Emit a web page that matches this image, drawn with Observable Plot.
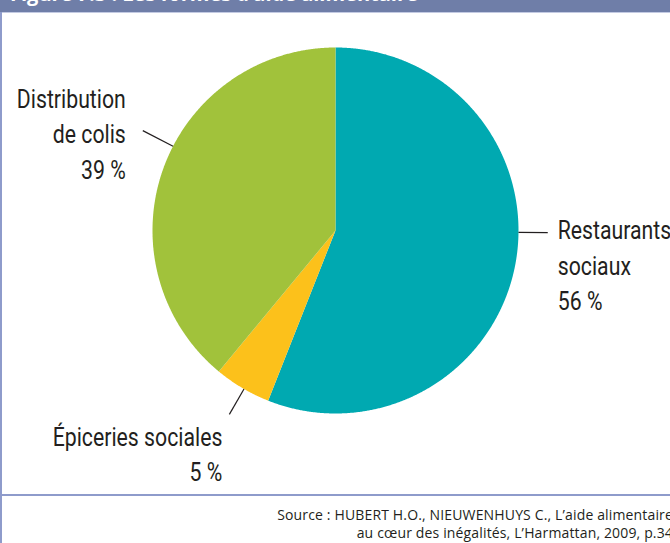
<!DOCTYPE html>
<html>
<head>
<meta charset="utf-8">
<script src="https://cdn.jsdelivr.net/npm/d3@7"></script>
<script src="https://cdn.jsdelivr.net/npm/@observablehq/plot@0.6"></script>
<style>
  html, body { margin: 0; padding: 0; background: #fff; }
  #page { position: relative; width: 670px; height: 543px; overflow: hidden; background: #fff; }
  #header { position: absolute; left: 0; top: 0; width: 670px; height: 12px; background: #6f7ea8; overflow: hidden; }
  #header span { position: absolute; left: 10px; top: -20.5px; color: #fff; font: bold 20px "Open Sans", sans-serif; white-space: nowrap; }
  #hline { position: absolute; left: 0; top: 12px; width: 670px; height: 1px; background: #c3cae2; }
  #lborder { position: absolute; left: 0; top: 12px; width: 2px; height: 531px; background: #8e9bcb; }
  #divider { position: absolute; left: 0; top: 494px; width: 670px; height: 2px; background: #8e9bcb; }
  #source { position: absolute; right: -3px; top: 506px; text-align: right; font: 14px "Open Sans", sans-serif; color: #231f20; line-height: 18px; white-space: nowrap; letter-spacing: 0.15px; }
  #chart { position: absolute; left: 0; top: 0; }
</style>
</head>
<body>
<div id="page">
  <div id="header"><span>Figure 7.3 : Les formes d’aide alimentaire</span></div>
  <div id="hline"></div>
  <div id="lborder"></div>
  <div id="chart"></div>
  <div id="divider"></div>
  <div id="source">Source : HUBERT H.O., NIEUWENHUYS C., L’aide alimentaire<br>au cœur des inégalités, L’Harmattan, 2009, p.34</div>
</div>
<script>
// ---- data ----
const categories = ["Restaurants sociaux", "Épiceries sociales", "Distribution de colis"];
const values = [56, 5, 39];
const colors = ["#00a9b1", "#fcc11b", "#a1c23b"];
const labelNames = [["Restaurants", "sociaux"], ["Épiceries sociales"], ["Distribution", "de colis"]];

// ---- layout (pixels) ----
const W = 670, H = 543;
const CX = 335, CY = 230, R = 183;
const leaderShift = [-10.2, -0.6, 7.6];   // degrees from slice middle
const leaderR = [[1.0, 1.16], [1.0, 1.16], [1.0, 1.186]];
const textOffset = [[10, -19], [-7, 6], [-17, -48]]; // px from leader end to top of text
const anchors = ["start", "end", "end"];
const fontSize = 26;
const fontWeight = 400;
const fontFamily = "Roboto, 'Noto Sans', sans-serif";
const targetWidth = 109; // width of "Distribution" in the reference, px

const pie = d3.pie().sort(null).value(d => d)(values);

// slice polygons in unit-radius coordinates (y up)
const polys = [];
pie.forEach((p, i) => {
  polys.push({cat: categories[i], x: 0, y: 0});
  const n = Math.max(4, Math.ceil((p.endAngle - p.startAngle) / 0.005));
  for (let k = 0; k <= n; k++) {
    const a = p.startAngle + (p.endAngle - p.startAngle) * k / n;
    polys.push({cat: categories[i], x: Math.sin(a), y: Math.cos(a)});
  }
  polys.push({cat: categories[i], x: 0, y: 0});
});

const leaders = pie.map((p, i) => {
  const a = (p.startAngle + p.endAngle) / 2 + leaderShift[i] * Math.PI / 180;
  const [r1, r2] = leaderR[i];
  return {
    cat: categories[i],
    x1: r1 * Math.sin(a), y1: r1 * Math.cos(a),
    x2: r2 * Math.sin(a), y2: r2 * Math.cos(a),
    i
  };
});

const labels = leaders.map(l => ({
  text: [...labelNames[l.i], `${values[l.i]} %`].join("\n"),
  x: l.x2 + textOffset[l.i][0] / R,
  y: l.y2 - textOffset[l.i][1] / R,
  anchor: anchors[l.i]
}));

const textStyle = {
  fontSize,
  fontWeight,
  lineHeight: 35.6 / fontSize,
  lineAnchor: "top",
  fill: "#231f20",
  fontFamily
};

const chart = Plot.plot({
  width: W,
  height: H,
  margin: 0,
  x: {domain: [-CX / R, (W - CX) / R], range: [0, W], axis: null},
  y: {domain: [(CY - H) / R, CY / R], range: [H, 0], axis: null},
  color: {domain: categories, range: colors},
  style: {background: "transparent", overflow: "visible"},
  marks: [
    Plot.line(polys, {x: "x", y: "y", z: "cat", fill: "cat", stroke: "none", curve: "linear"}),
    Plot.link(leaders, {x1: "x1", y1: "y1", x2: "x2", y2: "y2", stroke: "#231f20", strokeWidth: 1.2}),
    Plot.text(labels.filter(d => d.anchor === "start"), {x: "x", y: "y", text: "text", textAnchor: "start", ...textStyle}),
    Plot.text(labels.filter(d => d.anchor === "end"), {x: "x", y: "y", text: "text", textAnchor: "end", ...textStyle})
  ]
});
document.getElementById("chart").appendChild(chart);

// condense the label font horizontally to match the reference's narrow typeface
const probe = document.createElementNS("http://www.w3.org/2000/svg", "text");
probe.setAttribute("font-size", fontSize);
probe.setAttribute("font-weight", fontWeight);
probe.setAttribute("font-family", fontFamily);
probe.textContent = "Distribution";
chart.appendChild(probe);
const s = targetWidth / probe.getComputedTextLength();
probe.remove();
chart.querySelectorAll('g[aria-label="text"] text').forEach(t => {
  const tr = t.getAttribute("transform") || "";
  t.setAttribute("transform", `${tr} scale(${s},1)`);
});
</script>
</body>
</html>
